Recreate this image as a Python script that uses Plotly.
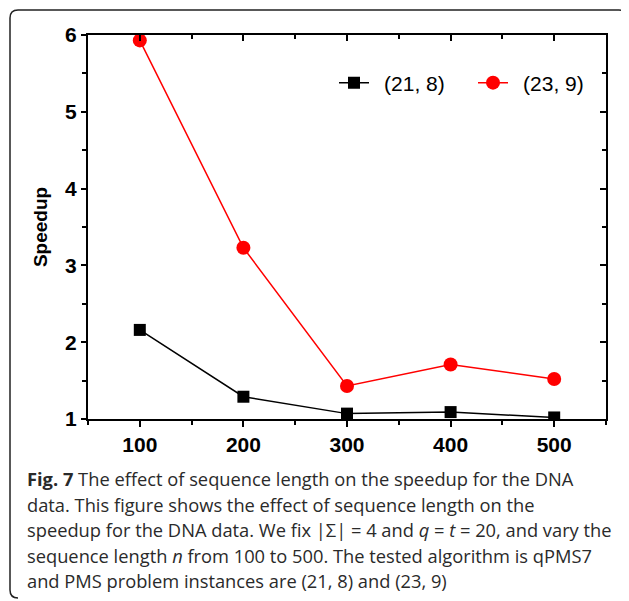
import plotly.graph_objects as go

# sequence length n
lengths = [100, 200, 300, 400, 500]
# speedup for PMS instance (21, 8) and (23, 9)
speedup_21_8 = [2.16, 1.29, 1.07, 1.09, 1.02]
speedup_23_9 = [5.93, 3.23, 1.43, 1.71, 1.52]
y_ticks = [1, 2, 3, 4, 5, 6]

caption_lines = [
    "<b>Fig. 7</b> The effect of sequence length on the speedup for the DNA",
    "data. This figure shows the effect of sequence length on the",
    "speedup for the DNA data. We fix |Σ| = 4 and <i>q</i> = <i>t</i> = 20, and vary the",
    "sequence length <i>n</i> from 100 to 500. The tested algorithm is qPMS7",
    "and PMS problem instances are (21, 8) and (23, 9)",
]

# page body has an 8px margin, so the figure is shifted by 8px
OFF = 8
W, H = 629 - OFF, 601 - OFF
ML, MT = 88 - OFF, 35 - OFF
PW, PH = 518, 384
MR, MB = W - ML - PW, H - MT - PH


def px(x):
    return (x - OFF - ML) / PW


def py(y):
    return (H - MB - (y - OFF)) / PH


PAD = "\u00a0\u2009"  # push legend text away from the symbol

fig = go.Figure()
fig.add_trace(go.Scatter(
    x=lengths, y=speedup_21_8, name=PAD + "(21, 8)", mode="lines+markers",
    line=dict(color="black", width=1.5),
    marker=dict(symbol="square", size=12, color="black"),
))
fig.add_trace(go.Scatter(
    x=lengths, y=speedup_23_9, name=PAD + "(23, 9)", mode="lines+markers",
    line=dict(color="#ff0000", width=1.5),
    marker=dict(symbol="circle", size=14, color="#ff0000"),
))
# empty trace so the mirrored top/right axes get drawn
fig.add_trace(go.Scatter(x=[], y=[], xaxis="x2", yaxis="y2", showlegend=False))

FONT = "Liberation Sans"
tickfont = dict(family=FONT, size=21, color="black")
axis_common = dict(showline=True, linewidth=2, linecolor="black", showgrid=False,
                   zeroline=False, tickwidth=2, tickcolor="black")
fig.update_layout(
    width=W, height=H,
    margin=dict(l=ML, r=MR, t=MT, b=MB),
    plot_bgcolor="white", paper_bgcolor="white",
    font=dict(family=FONT, color="black"),
    xaxis=dict(range=[50, 550], tickvals=lengths, ticktext=["<b>%d</b>" % v for v in lengths],
               ticks="outside", ticklen=6, tickfont=tickfont,
               minor=dict(ticks="outside", ticklen=4, tickwidth=2, dtick=50, tick0=50),
               **axis_common),
    yaxis=dict(range=[1, 6], tickvals=y_ticks, ticktext=["<b>%d</b>" % v for v in y_ticks],
               ticks="outside", ticklen=5, tickfont=tickfont,
               title=dict(text="<b>Speedup</b>", font=dict(family=FONT, size=19), standoff=12),
               minor=dict(ticks="outside", ticklen=4, tickwidth=2, dtick=0.5),
               **axis_common),
    xaxis2=dict(range=[50, 550], overlaying="x", side="top", showticklabels=False,
                ticks="inside", ticklen=6, tickvals=lengths,
                minor=dict(ticks="inside", ticklen=4, tickwidth=2, dtick=50, tick0=50),
                **axis_common),
    yaxis2=dict(range=[1, 6], overlaying="y", side="right", showticklabels=False,
                ticks="inside", ticklen=6, tickvals=y_ticks,
                minor=dict(ticks="inside", ticklen=4, tickwidth=2, dtick=0.5),
                **axis_common),
    legend=dict(orientation="h", x=px(334), y=py(83), xanchor="left", yanchor="middle",
                font=dict(family=FONT, size=21), bgcolor="rgba(0,0,0,0)",
                entrywidth=94, entrywidthmode="pixels"),
    showlegend=True,
)

# caption text
line_y = [478, 504, 529, 555, 580]
for txt, yy in zip(caption_lines, line_y):
    fig.add_annotation(text=txt, xref="paper", yref="paper", x=px(25), y=py(yy),
                       xanchor="left", yanchor="middle", showarrow=False, align="left",
                       font=dict(family="Open Sans", size=18.3, color="#2a2a2a"))

# rounded frame around figure and caption
path = "M {a},{b} Q {a},{c} {d},{c} L {e},{c} Q {f},{c} {f},{g} L {f},{h} Q {f},{i} {j},{i}".format(
    a=px(627), b=py(18), c=py(10), d=px(619), e=px(18), f=px(10), g=py(18),
    h=py(590), i=py(598), j=px(18))
fig.add_shape(type="path", path=path, xref="paper", yref="paper",
              line=dict(color="#222222", width=1.5))

fig.write_html("out.html")
